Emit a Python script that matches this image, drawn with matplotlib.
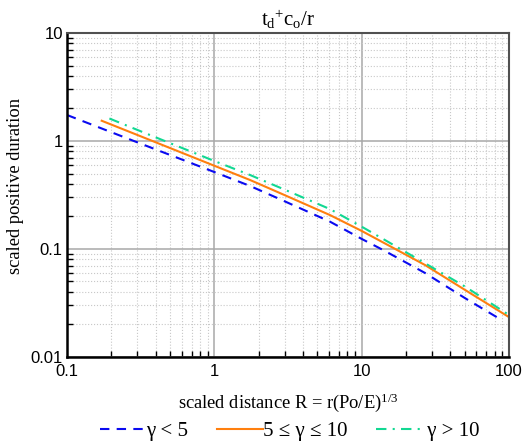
import matplotlib
matplotlib.use("Agg")
import matplotlib.pyplot as plt
from matplotlib.ticker import LogLocator, NullFormatter, FixedLocator, FixedFormatter

plt.rcParams['font.family'] = ['Liberation Serif', 'DejaVu Serif']
plt.rcParams['mathtext.fontset'] = 'custom'
plt.rcParams['mathtext.rm'] = 'Liberation Serif'
plt.rcParams['mathtext.it'] = 'Liberation Serif'

# scaled distance R vs scaled positive duration
r_low = [0.1, 0.333, 1, 1.75, 2.84, 6.1, 10, 14.4, 26.9, 50.4, 84.3]
dur_low = [1.741, 0.92, 0.516, 0.383, 0.286, 0.179, 0.124, 0.0958, 0.060, 0.035, 0.023]

r_mid = [0.172, 0.333, 1, 1.75, 2.84, 6.1, 10, 14.4, 26.9, 50.4, 100]
dur_mid = [1.54, 1.075, 0.59, 0.435, 0.326, 0.206, 0.147, 0.1125, 0.0711, 0.0417, 0.0234]

r_high = [0.194, 0.333, 1, 1.75, 2.84, 6.1, 10, 14.4, 26.9, 50.4, 100]
dur_high = [1.616, 1.196, 0.653, 0.484, 0.366, 0.234, 0.161, 0.121, 0.0738, 0.0448, 0.0245]

labels = ["γ < 5", "5 ≤ γ ≤ 10", " γ > 10"]
x_ticks = [0.1, 1, 10, 100]
x_ticklabels = ["0.1", "1", "10", "100"]
y_ticks = [0.01, 0.1, 1, 10]
y_ticklabels = ["0.01", "0.1", "1", "10"]

fig = plt.figure(figsize=(5.25, 4.46), dpi=100)
ax = fig.add_axes([0.1276, 0.1996, 0.8419, 0.7264])

ax.plot(r_low, dur_low, color="#0a0af0", lw=1.5, linestyle=(0, (4.5, 3.5)), label=labels[0])
ax.plot(r_mid, dur_mid, color="#ff7f0e", lw=1.5, linestyle="-", label=labels[1])
ax.plot(r_high, dur_high, color="#12d892", lw=1.5, linestyle=(0, (5, 3, 1, 3)), label=labels[2])

ax.set_xscale("log")
ax.set_yscale("log")
ax.set_xlim(0.1, 100)
ax.set_ylim(0.01, 10)

ax.xaxis.set_major_locator(FixedLocator(x_ticks))
ax.xaxis.set_major_formatter(FixedFormatter(x_ticklabels))
ax.yaxis.set_major_locator(FixedLocator(y_ticks))
ax.yaxis.set_major_formatter(FixedFormatter(y_ticklabels))
ax.xaxis.set_minor_locator(LogLocator(base=10, subs=range(2, 10)))
ax.yaxis.set_minor_locator(LogLocator(base=10, subs=range(2, 10)))
ax.xaxis.set_minor_formatter(NullFormatter())
ax.yaxis.set_minor_formatter(NullFormatter())

ax.grid(which="major", color="#a8a8a8", lw=1.1, linestyle="-")
ax.grid(which="minor", color="#c8c8c8", lw=0.8, linestyle=":")
ax.set_axisbelow(True)

ax.tick_params(which="both", direction="in", top=False, right=False, color="black")
ax.tick_params(which="major", length=0, pad=5)
ax.tick_params(which="minor", length=4, width=1)
ax.tick_params(axis="y", which="major", pad=3)
for lab in ax.get_xticklabels() + ax.get_yticklabels():
    lab.set_family("Liberation Sans")
    lab.set_fontsize(12)

for side in ["left", "bottom"]:
    ax.spines[side].set_color("black")
    ax.spines[side].set_linewidth(1.8)
for side in ["top", "right"]:
    ax.spines[side].set_color("#505050")
    ax.spines[side].set_linewidth(1.5)

ax.set_title(r"$t_d{}^{+}c_o/r$", fontsize=15, pad=5)
ax.set_xlabel(r"scaled distance R = r(Po/E)$^{1/3}$", fontsize=13.3, labelpad=9)
ax.set_ylabel("scaled positive duration", fontsize=13.3)
ax.yaxis.set_label_coords(-0.098, 0.528)

fig.legend(loc="center", bbox_to_anchor=(0.552, 0.033), ncol=3, frameon=False,
           fontsize=15, handlelength=2.2, handletextpad=0.0, columnspacing=1.4)

fig.savefig("out.png", dpi=100)
